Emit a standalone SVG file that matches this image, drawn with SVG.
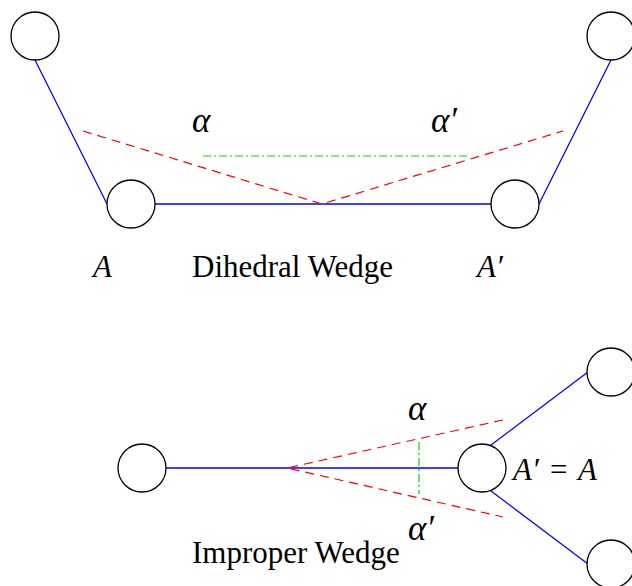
<svg xmlns="http://www.w3.org/2000/svg" width="632" height="586" viewBox="0 0 632 586">
<style>
.atom{fill:#fff;stroke:#000;stroke-width:1.3}
.bond{stroke:#0000ff;stroke-width:1.3;fill:none}
.wedge{stroke:#ff0000;stroke-width:1.2;stroke-dasharray:9,6;fill:none}
.ang{stroke:#00dd00;stroke-width:1.2;stroke-dasharray:8,3,2,3;fill:none}
.t{font-family:"Liberation Serif","Times New Roman",serif;font-size:31px;fill:#000}
.m{font-family:"Liberation Serif","Times New Roman",serif;font-size:31px;font-style:italic;fill:#000}
.g{font-family:"Liberation Serif","Times New Roman",serif;font-size:35px;font-style:italic;fill:#000}
</style>
<rect width="632" height="586" fill="#fff"/>
<g id="connectors">
<line class="bond" x1="35" y1="60" x2="107" y2="204"/>
<line class="bond" x1="155" y1="204" x2="491" y2="204"/>
<line class="bond" x1="539" y1="204" x2="611" y2="60"/>
<polyline class="wedge" points="83,131 322,204 563,131"/>
<line class="ang" x1="203" y1="156" x2="467" y2="156"/>
<line class="bond" x1="166" y1="468" x2="458" y2="468"/>
<line class="bond" x1="491" y1="445" x2="588" y2="372"/>
<line class="bond" x1="491" y1="491" x2="588" y2="564"/>
<polyline class="wedge" points="503,420 287,468 503,517"/>
<line class="ang" x1="419" y1="442" x2="419" y2="494"/>
</g>
<g id="n1"><circle class="atom" cx="35" cy="36" r="24"/></g>
<g id="nA"><circle class="atom" cx="131" cy="204" r="24"/></g>
<g id="nA2"><circle class="atom" cx="515" cy="204" r="24"/></g>
<g id="n4"><circle class="atom" cx="611" cy="36" r="24"/></g>
<g id="m1"><circle class="atom" cx="142" cy="468" r="24"/></g>
<g id="m2"><circle class="atom" cx="482" cy="468" r="24"/></g>
<g id="m3"><circle class="atom" cx="611" cy="372" r="24"/></g>
<g id="m4"><circle class="atom" cx="611" cy="564" r="24"/></g>
<g id="labels">
<text class="g" x="192" y="132">α</text>
<text class="g" x="431" y="132">α′</text>
<text class="m" x="93" y="277">A</text>
<text class="t" x="192" y="277">Dihedral Wedge</text>
<text class="m" x="477" y="277">A′</text>
<text class="g" x="408" y="420">α</text>
<text class="g" x="408" y="540">α′</text>
<text class="m" x="513" y="480">A′</text>
<text class="t" x="550" y="480">=</text>
<text class="m" x="578" y="480">A</text>
<text class="t" x="192" y="563">Improper Wedge</text>
</g>
</svg>
